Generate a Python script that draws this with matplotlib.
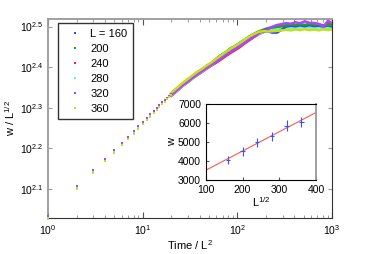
import matplotlib.pyplot as plt
import numpy as np

plt.rcParams['font.family'] = ['Liberation Sans', 'DejaVu Sans']
plt.rcParams['mathtext.default'] = 'regular'

#########################       DATA

labels = ["L = 160", "200", "240", "280", "320", "360"]
colors = ['#3344ff', '#22a022', '#ff2222', '#55ffc0', '#aa44ff', '#c4e018']

# discrete early times (Time / L^2)
t_early = list(range(1, 21))

w_early_160 = [107.1, 127.1, 139.3, 148.6, 155.9, 162.5, 168.2, 173.7, 178.6, 183.2,
               187.5, 191.4, 194.9, 198.6, 201.8, 205.0, 207.9, 210.8, 213.2, 215.7]
w_early_200 = [106.6, 126.4, 138.6, 147.9, 155.1, 161.7, 167.4, 172.9, 177.7, 182.3,
               186.5, 190.4, 193.9, 197.6, 200.8, 204.0, 206.9, 209.8, 212.2, 214.7]
w_early_240 = [106.9, 126.8, 139.0, 148.3, 155.6, 162.2, 167.9, 173.4, 178.2, 182.8,
               187.1, 191.0, 194.5, 198.0, 201.0, 204.0, 206.8, 209.5, 211.8, 214.0]
w_early_280 = [107.0, 127.0, 139.2, 148.5, 155.8, 162.4, 168.1, 173.6, 178.4, 183.0,
               187.3, 191.2, 194.7, 198.2, 201.3, 204.3, 207.2, 210.0, 212.4, 214.6]
w_early_320 = [107.6, 127.7, 140.0, 149.3, 156.7, 163.3, 169.1, 174.6, 179.4, 184.1,
               188.4, 192.3, 195.9, 199.4, 202.6, 205.7, 208.5, 211.3, 213.6, 216.0]
w_early_360 = [106.2, 125.9, 138.0, 147.3, 154.5, 161.1, 166.7, 172.2, 177.0, 181.5,
               185.8, 189.7, 193.1, 197.0, 200.3, 203.6, 206.6, 209.5, 212.0, 214.6]

# dense late times, where the dots merge into a band
t_late = [20, 23, 26, 30, 34, 38, 43, 48, 54, 60, 67, 75, 84, 94, 105, 118, 132, 148,
          166, 186, 208, 233, 261, 292, 327, 366, 410, 459, 514, 576, 645, 722, 809,
          906, 1000]

w_late_160 = [215.9, 222.0, 227.9, 233.2, 239.0, 243.2, 248.0, 252.4, 257.3, 263.0,
              268.2, 272.6, 278.3, 282.8, 287.6, 292.6, 297.5, 302.5, 306.3, 307.6,
              307.8, 305.6, 305.6, 310.4, 316.5, 317.8, 316.8, 318.5, 317.0, 318.8,
              317.2, 318.0, 316.4, 318.2, 317.0]
w_late_200 = [216.6, 222.8, 228.2, 234.4, 239.5, 244.4, 248.6, 253.5, 257.9, 263.8,
              269.0, 273.4, 279.2, 283.0, 288.0, 293.0, 298.6, 303.0, 307.2, 310.5,
              313.3, 315.0, 315.8, 317.4, 318.6, 320.0, 319.2, 320.6, 319.4, 320.8,
              319.5, 320.2, 318.6, 319.8, 318.4]
w_late_240 = [213.4, 219.3, 225.1, 230.6, 236.1, 240.4, 245.0, 249.5, 254.0, 257.8,
              262.3, 267.2, 272.0, 276.4, 281.0, 286.8, 292.0, 297.5, 302.4, 306.0,
              309.2, 311.8, 313.0, 314.3, 315.5, 315.4, 316.6, 315.6, 316.8, 315.3,
              316.0, 317.4, 316.2, 322.0, 318.0]
w_late_280 = [214.0, 219.8, 225.5, 231.3, 236.7, 241.3, 245.6, 250.4, 254.9, 259.9,
              264.8, 269.8, 274.6, 279.3, 283.6, 289.0, 294.3, 299.2, 303.2, 306.3,
              308.6, 310.4, 311.4, 312.8, 313.6, 314.6, 313.8, 315.2, 314.0, 315.4,
              313.8, 314.8, 313.2, 312.8, 312.0]
w_late_320 = [214.4, 220.4, 226.1, 231.9, 237.2, 241.7, 246.2, 250.8, 255.4, 258.8,
              263.7, 268.5, 273.6, 278.0, 282.5, 287.8, 293.2, 298.0, 303.9, 308.8,
              311.2, 316.0, 319.0, 320.6, 322.5, 321.4, 324.0, 322.2, 325.8, 323.0,
              322.8, 321.0, 316.0, 327.0, 322.0]
w_late_360 = [217.2, 223.3, 229.0, 234.9, 240.3, 244.9, 249.4, 254.1, 258.7, 263.6,
              268.5, 273.4, 278.6, 283.0, 287.7, 293.0, 298.4, 302.8, 306.6, 308.2,
              307.5, 307.8, 308.6, 309.4, 310.5, 309.4, 311.0, 310.0, 311.6, 309.8,
              311.0, 309.6, 311.2, 310.0, 311.4]

# inset: saturation width vs size
L_vals = [160, 200, 240, 280, 320, 360]
w_sat = [4070, 4510, 4990, 5310, 5860, 6060]
w_sat_err = [220, 220, 230, 230, 290, 260]
L_err = [6, 6, 6, 6, 6, 6]
fit_x = [100, 400]
fit_w = [3520, 6560]

early = [w_early_160, w_early_200, w_early_240, w_early_280, w_early_320, w_early_360]
late = [w_late_160, w_late_200, w_late_240, w_late_280, w_late_320, w_late_360]

#########################       MAIN PLOT

fig = plt.figure(figsize=(3.67, 2.54), dpi=100)
ax = fig.add_axes([0.131, 0.142, 0.774, 0.785])

# band part: red/cyan underneath, purple then yellow on top
for i in [2, 3, 0, 1, 4, 5]:
    ax.plot(t_late, late[i], '-', color=colors[i], lw=1.8, solid_joinstyle='round')
for i in range(len(labels)):
    ax.plot(t_early, early[i], 's', color=colors[i], ms=1.8, mew=0, label=labels[i],
            clip_on=False, zorder=3)

ax.set_xscale('log')
ax.set_yscale('log')
ax.set_xlim(1, 1000)
ax.set_ylim(106.7, 331.0)

yt = [10 ** 2.1, 10 ** 2.2, 10 ** 2.3, 10 ** 2.4, 10 ** 2.5]
ax.set_yticks(yt)
ax.set_yticklabels(['$10^{2.1}$', '$10^{2.2}$', '$10^{2.3}$', '$10^{2.4}$', '$10^{2.5}$'])
ax.yaxis.set_minor_locator(plt.NullLocator())
ax.set_xticks([1, 10, 100, 1000])
ax.set_xticklabels(['$10^{0}$', '$10^{1}$', '$10^{2}$', '$10^{3}$'])

ax.tick_params(which='both', direction='in', top=True, right=True, labelsize=7.5)
ax.tick_params(axis='y', colors='#999999', labelcolor='black', length=3)
ax.tick_params(axis='x', which='major', length=4, color='#555555')
ax.tick_params(axis='x', which='minor', length=2, color='#888888')

ax.spines['left'].set_color('#999999')
ax.spines['top'].set_color('#999999')
ax.spines['left'].set_linewidth(1.3)
ax.spines['top'].set_linewidth(1.3)
ax.spines['right'].set_color('#333333')
ax.spines['bottom'].set_color('#333333')

ax.set_xlabel('Time / L$^2$', fontsize=8, labelpad=1)
ax.set_ylabel('w / L$^{1/2}$', fontsize=8, labelpad=2)

leg = ax.legend(loc='upper left', bbox_to_anchor=(0.035, 0.977), fontsize=8,
                frameon=True, fancybox=False, edgecolor='#333333', framealpha=1,
                markerscale=0.9, handlelength=2.0, handletextpad=0.4,
                labelspacing=0.45, borderpad=0.5, borderaxespad=0)
leg.get_frame().set_linewidth(1.0)
leg.set_zorder(5)

#########################       INSET

axi = fig.add_axes([0.561, 0.291, 0.300, 0.299])
axi.plot(fit_x, fit_w, '-', color='#ff5555', lw=0.8)
axi.errorbar(L_vals, w_sat, yerr=w_sat_err, xerr=L_err, fmt='none',
             ecolor='#3355ff', elinewidth=0.8, capsize=0)
axi.set_xlim(100, 400)
axi.set_ylim(3000, 7000)
axi.set_xticks([100, 200, 300, 400])
axi.set_yticks([3000, 4000, 5000, 6000, 7000])
axi.tick_params(direction='in', labelsize=7.5, length=2, colors='#555555', labelcolor='black')
axi.spines['right'].set_color('#999999')
axi.spines['right'].set_linewidth(1.3)
axi.set_xlabel('L$^{1/2}$', fontsize=8, labelpad=0)
axi.set_ylabel('w', fontsize=8, labelpad=1)

plt.savefig('out.png', dpi=100)
